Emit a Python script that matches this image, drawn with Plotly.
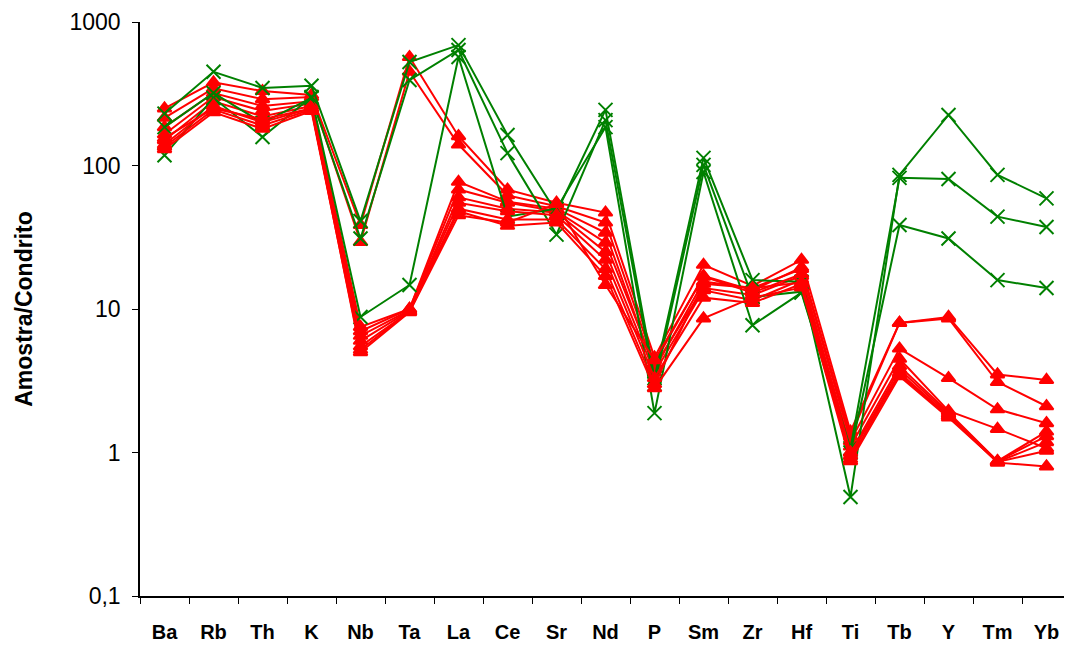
import plotly.graph_objects as go

elements = ["Ba", "Rb", "Th", "K", "Nb", "Ta", "La", "Ce", "Sr", "Nd", "P",
            "Sm", "Zr", "Hf", "Ti", "Tb", "Y", "Tm", "Yb"]

# Green samples (X markers)
green_1 = [230, 450, 347, 360, 41, 526, 690, 163, 47, 244, 3.3, 113, 15.9, 15.5, 0.49, 86, 225, 86, 59]
green_2 = [185, 320, 198, 296, 31, 394, 638, 122, 33, 207, 3.0, 101, 12.1, 13.2, 1.07, 82, 80.6, 44, 37.3]
green_3 = [118, 295, 158, 300, 8.8, 14.7, 570, 44, 50, 185, 1.88, 90, 7.7, 13.0, 1.0, 38.5, 31, 15.9, 14]

# Red samples (triangle markers)
red_1 = [250, 380, 330, 310, 38.5, 570, 160, 68, 55, 47, 4.6, 20.3, 14.5, 22, 1.4, 8.0, 8.8, 3.5, 3.2]
red_2 = [215, 345, 290, 300, 29.3, 450, 140, 62, 52, 40, 4.2, 17, 13.5, 19.5, 1.3, 8.0, 8.6, 3.1, 2.1]
red_3 = [185, 320, 260, 280, 7.5, 10.0, 77, 56, 50, 34, 3.8, 15.5, 14.0, 19, 1.2, 5.3, 3.3, 2.0, 1.6]
red_4 = [165, 300, 240, 270, 7.0, 10.0, 68, 55, 48, 29, 4.0, 14, 12.5, 17, 1.1, 4.5, 1.95, 1.46, 1.07]
red_5 = [150, 280, 220, 260, 6.5, 9.8, 60, 50, 47, 25, 3.6, 13.5, 11.5, 16, 1.0, 4.0, 1.9, 0.87, 1.4]
red_6 = [140, 260, 200, 250, 6.0, 9.7, 55, 48, 45, 22, 3.3, 12, 11.0, 15, 0.95, 3.8, 1.85, 0.87, 1.3]
red_7 = [135, 245, 190, 245, 5.5, 9.6, 50, 42, 42, 19, 3.0, 15, 14.0, 15.3, 0.9, 3.6, 1.8, 0.86, 1.18]
red_8 = [130, 235, 180, 240, 5.2, 9.6, 48, 38, 40, 17, 2.8, 8.6, 12.0, 14.1, 0.87, 3.4, 1.75, 0.86, 1.03]
red_9 = [155, 250, 210, 250, 5.0, 9.5, 45, 40, 54, 14.7, 4.4, 16.8, 13.0, 17.5, 1.0, 3.5, 1.8, 0.85, 0.8]

y_ticks = [0.1, 1, 10, 100, 1000]
y_tick_text = ["0,1", "1", "10", "100", "1000"]

RED = "#FF0000"
GREEN = "#008000"

fig = go.Figure()

def add_red(vals):
    fig.add_trace(go.Scatter(
        x=elements, y=vals, mode="lines+markers",
        line=dict(color=RED, width=2),
        marker=dict(symbol="triangle-up", size=12, color=RED,
                    line=dict(color=RED, width=2)),
        showlegend=False, hoverinfo="skip"))

def add_green(vals):
    fig.add_trace(go.Scatter(
        x=elements, y=vals, mode="lines+markers",
        line=dict(color=GREEN, width=2),
        marker=dict(symbol="x-thin", size=14, color=GREEN,
                    line=dict(color=GREEN, width=2)),
        showlegend=False, hoverinfo="skip"))

for s in [red_1, red_2, red_3, red_4, red_5]:
    add_red(s)
for s in [green_1, green_2, green_3]:
    add_green(s)
for s in [red_6, red_7, red_8, red_9]:
    add_red(s)

FONT = "Liberation Sans, Arial, sans-serif"

# page body adds an 8px offset, so the figure is sized to fit the window
fig.update_layout(
    width=1064, height=639,
    margin=dict(l=132, r=1, t=14, b=51),
    paper_bgcolor="white", plot_bgcolor="white",
    font=dict(family=FONT, color="black"),
)

fig.update_xaxes(
    type="category", categoryorder="array", categoryarray=elements,
    range=[-0.5, len(elements) - 0.5],
    showline=True, linecolor="black", linewidth=1.5,
    ticks="outside", tickson="boundaries", ticklen=6, tickcolor="black",
    tickfont=dict(family=FONT, size=20, color="black", weight="bold"),
    ticklabelstandoff=17,
    showgrid=False, zeroline=False,
)

fig.update_yaxes(
    type="log", range=[-1, 3],
    tickvals=y_ticks, ticktext=y_tick_text,
    showline=True, linecolor="black", linewidth=1.5,
    ticks="outside", ticklen=6, tickcolor="black",
    tickfont=dict(family=FONT, size=23, color="black"),
    ticklabelstandoff=7,
    showgrid=False, zeroline=False,
    title=dict(text="Amostra/Condrito",
               font=dict(family=FONT, size=23, color="black", weight="bold"),
               standoff=30),
)

fig.write_html("out.html")
